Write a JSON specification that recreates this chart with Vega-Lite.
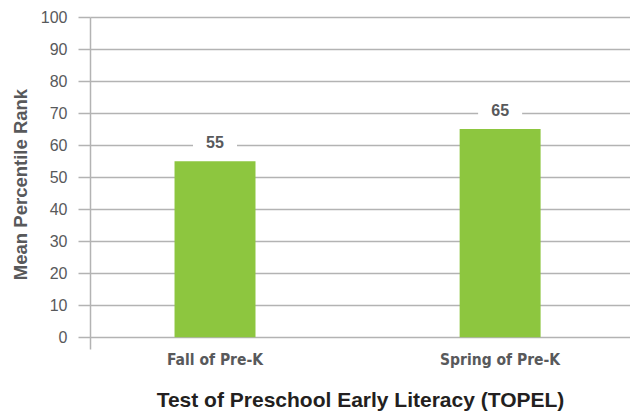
{
  "$schema": "https://vega.github.io/schema/vega-lite/v6.json",
  "width": 540,
  "height": 332,
  "autosize": {"type": "none"},
  "padding": {"left": 90, "top": 17, "right": 0, "bottom": 64},
  "background": "white",
  "config": {"view": {"stroke": null}},
  "data": {"values": [
    {"period": "Fall of Pre-K", "rank": 55},
    {"period": "Spring of Pre-K", "rank": 65}
  ]},
  "encoding": {
    "x": {
      "field": "period", "type": "nominal", "sort": null,
      "scale": {"paddingInner": 0.716, "paddingOuter": 0.305, "align": 0.486},
      "axis": {
        "title": "Test of Preschool Early Literacy (TOPEL)",
        "labelAngle": 0, "domain": false, "ticks": false, "labelPadding": 3,
        "labelFont": "Liberation Sans Narrow, DejaVu Sans Condensed, sans-serif",
        "labelFontSize": 15.5, "labelFontWeight": "bold", "labelColor": "#58595b",
        "titleFont": "Liberation Sans, Arial, sans-serif", "titleFontSize": 21,
        "titleFontWeight": 600, "titleColor": "#231f20",
        "titleY": 51, "titleBaseline": "middle"
      }
    },
    "y": {
      "field": "rank", "type": "quantitative",
      "scale": {"domain": [-3.65, 100], "nice": false, "zero": false},
      "axis": {
        "title": "Mean Percentile Rank",
        "values": [0, 10, 20, 30, 40, 50, 60, 70, 80, 90, 100],
        "grid": true, "gridColor": "#b3b3b3", "gridWidth": 1.5,
        "tickSize": 12, "tickColor": "#b3b3b3", "tickWidth": 1.5,
        "domainColor": "#b3b3b3", "domainWidth": 1.5,
        "labelPadding": 11, "labelFont": "Liberation Sans, Arial, sans-serif",
        "labelFontSize": 16, "labelColor": "#58595b",
        "titleFont": "Liberation Sans, Arial, sans-serif", "titleFontSize": 18.5,
        "titleFontWeight": "bold", "titleColor": "#58595b",
        "titleAngle": -90, "titleX": -70, "titleY": 167,
        "titleAlign": "center", "titleBaseline": "middle"
      }
    }
  },
  "layer": [
    {"mark": {"type": "bar", "color": "#8dc63f"}},
    {
      "mark": {
        "type": "point", "filled": true, "fill": "white", "opacity": 1,
        "strokeWidth": 0, "size": 1936,
        "shape": "M-1,-0.35H1V0.35H-1Z", "yOffset": -18.5
      }
    },
    {
      "mark": {
        "type": "text", "dy": -18.5, "baseline": "middle",
        "font": "Liberation Sans, Arial, sans-serif", "fontSize": 16,
        "fontWeight": "bold", "color": "#58595b"
      },
      "encoding": {"text": {"field": "rank", "type": "quantitative"}}
    }
  ]
}
